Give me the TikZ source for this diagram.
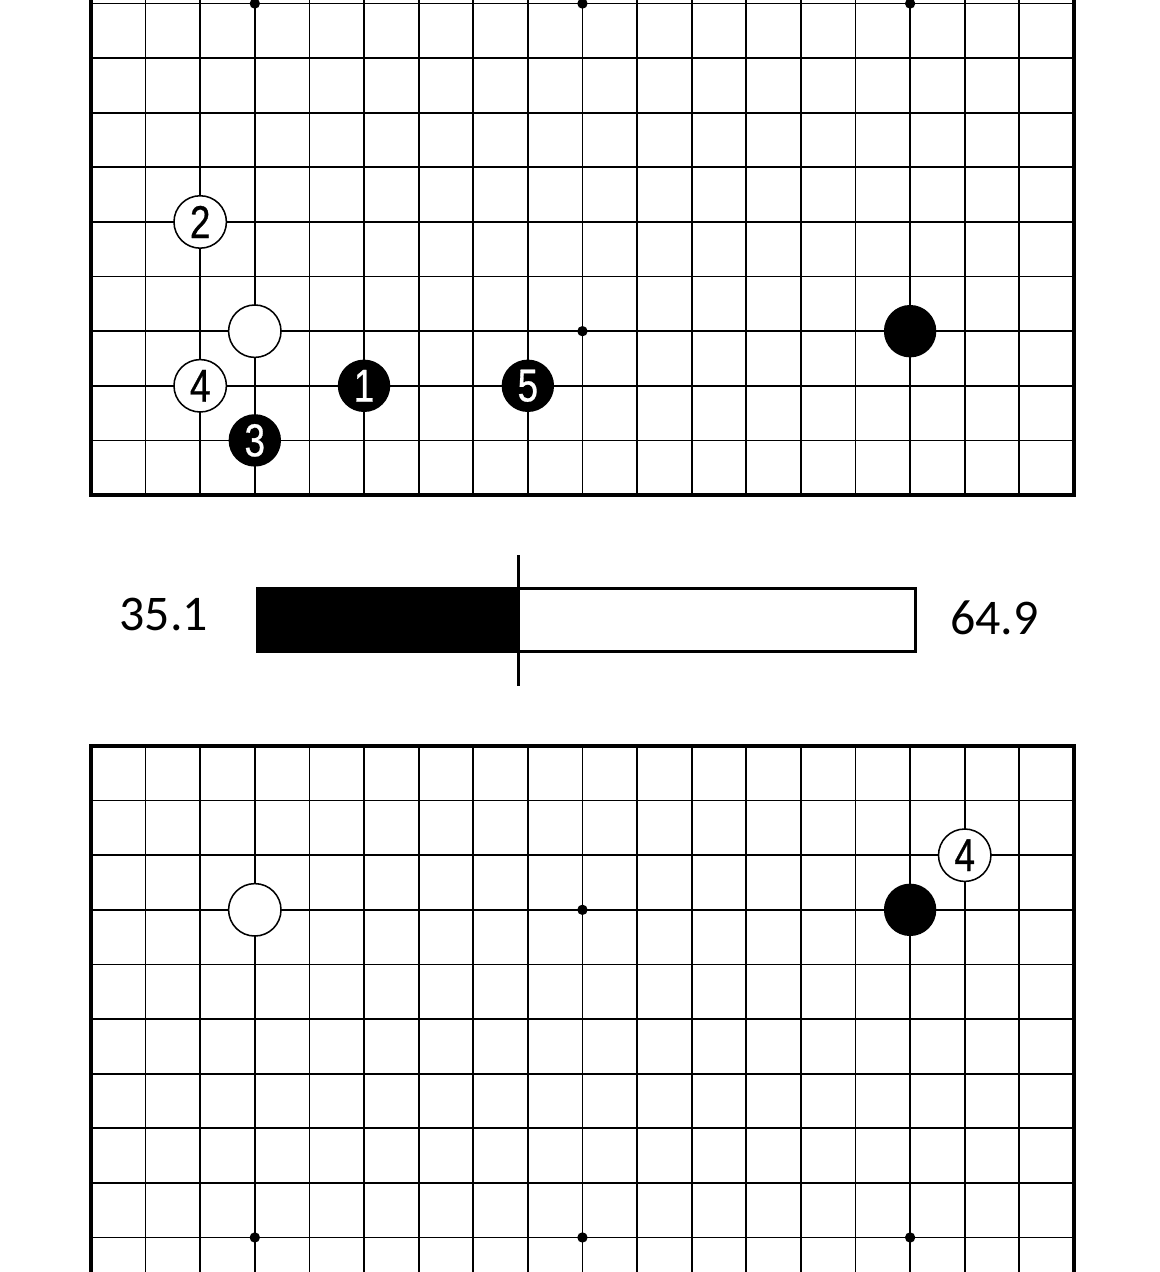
\documentclass[tikz,border=0pt]{standalone}
\usepackage{fontspec}
\setmainfont{Carlito}
\newfontfamily\stonefont[FakeStretch=0.8,FakeBold=0.6]{Liberation Sans}
\usetikzlibrary{positioning}
\tikzset{
  goline/.style={line width=0.9pt},
  goedge/.style={line width=2.2pt},
  gostar/.style={circle,fill=black,inner sep=0pt,minimum size=0.19cm},
  gostone/.style={circle,inner sep=0pt,minimum size=0.96cm,font=\stonefont\fontsize{24}{24}\selectfont},
  gobk/.style={gostone,fill=black,text=white},
  gowt/.style={gostone,draw=black,line width=0.8pt,fill=white},
  gobar/.style={draw,line width=1.6pt,inner sep=0pt,outer sep=0pt,minimum height=1.152cm},
  goscore/.style={font=\fontsize{26}{26}\selectfont,inner sep=0pt},
}
\begin{document}
\begin{tikzpicture}
\useasboundingbox (-1.666,0) rectangle (19.575,23.293);
% upper board: lower edge
\begin{scope}[yshift=14.228cm]
  \foreach \c in {1,...,17} \draw[goline] (\c,0) -- (\c,9.065);
  \foreach \r in {1,...,9} \draw[goline] (0,\r) -- (18,\r);
  \draw[goedge] (0,9.065) -- (0,0) -- (18,0) -- (18,9.065);
  \foreach \x in {3,9,15} \foreach \y in {3,9} \node[gostar] at (\x,\y) {};
  \node[gowt] (ta) at (3,3) {};
  \node[gobk] (tb) at (15,3) {};
  \node[gobk] (t1) at (5,2) {1};
  \node[gowt] (t2) at (2,5) {2};
  \node[gobk] (t3) at (3,1) {3};
  \node[gowt] (t4) at (2,2) {4};
  \node[gobk] (t5) at (8,2) {5};
\end{scope}
% score bar
\node[gobar,fill=black,minimum width=4.788cm,anchor=south west] (blk) at (3.049,11.363) {};
\node[gobar,fill=white,minimum width=7.26cm,anchor=west] (wht) at (blk.east) {};
\draw[line width=1.6pt] (blk.south east) ++(0,-0.632) -- ++(0,2.398);
\node[goscore,left=0.9cm of blk.west,yshift=0.1cm] (lblk) {35.1};
\node[goscore,right=0.63cm of wht.east,yshift=0.04cm] (lwht) {64.9};
% lower board: upper edge
\begin{scope}[yshift=9.632cm]
  \foreach \c in {1,...,17} \draw[goline] (\c,0) -- (\c,-9.632);
  \foreach \r in {1,...,9} \draw[goline] (0,-\r) -- (18,-\r);
  \draw[goedge] (0,-9.632) -- (0,0) -- (18,0) -- (18,-9.632);
  \foreach \x in {3,9,15} \foreach \y in {3,9} \node[gostar] at (\x,-\y) {};
  \node[gowt] (ba) at (3,-3) {};
  \node[gobk] (bb) at (15,-3) {};
  \node[gowt] (b4) at (16,-2) {4};
\end{scope}
\end{tikzpicture}
\end{document}
